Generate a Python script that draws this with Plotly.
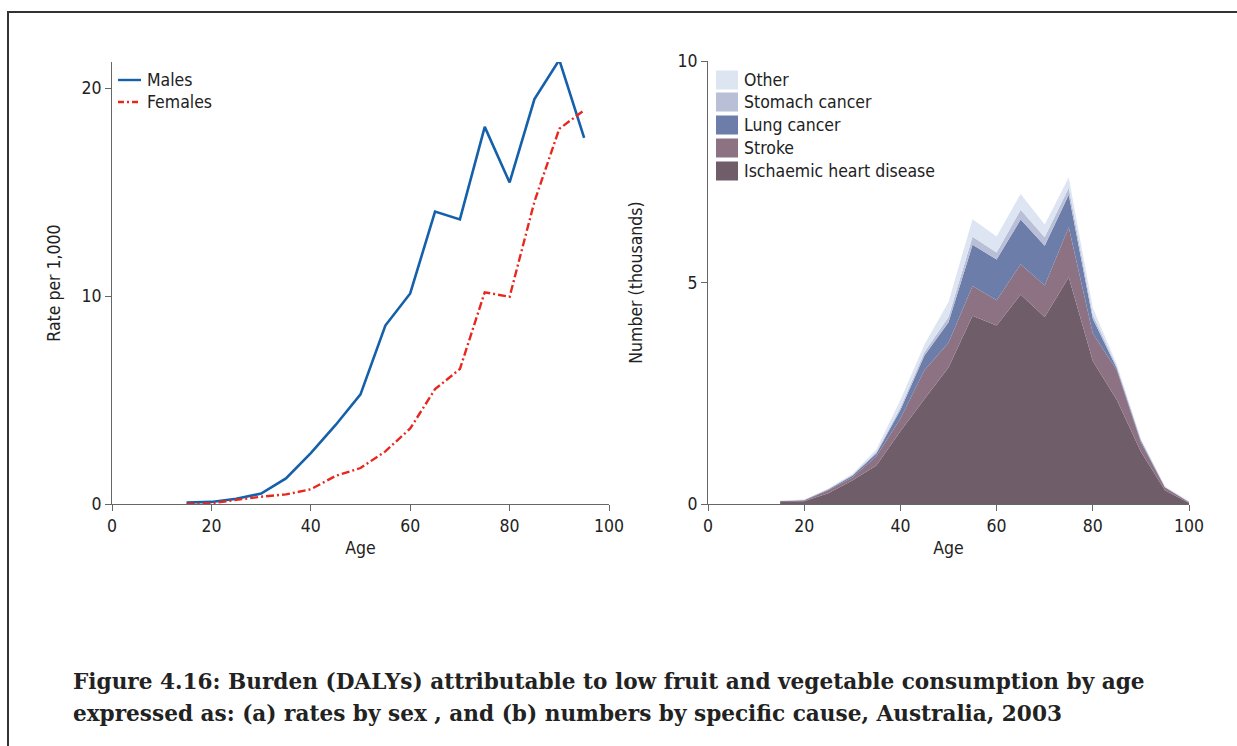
import plotly.graph_objects as go

W, H = 1237, 746

# ---------------- Data ----------------
ages_rate = [15, 20, 25, 30, 35, 40, 45, 50, 55, 60, 65, 70, 75, 80, 85, 90, 95]
males = [0.07, 0.1, 0.25, 0.5, 1.23, 2.45, 3.8, 5.27, 8.58, 10.12, 14.06, 13.68, 18.13, 15.46, 19.47, 21.35, 17.6]
females = [0.0, 0.03, 0.2, 0.35, 0.46, 0.71, 1.35, 1.73, 2.53, 3.63, 5.52, 6.49, 10.18, 9.96, 14.54, 18.04, 18.93]

ages_num = [15, 20, 25, 30, 35, 40, 45, 50, 55, 60, 65, 70, 75, 80, 85, 90, 95, 100]
# values in thousands, per cause (stacked bottom to top)
ihd = [0.06, 0.06, 0.24, 0.53, 0.87, 1.64, 2.37, 3.08, 4.25, 4.03, 4.73, 4.22, 5.12, 3.23, 2.35, 1.18, 0.31, 0.02]
stroke = [0.01, 0.02, 0.07, 0.07, 0.21, 0.29, 0.65, 0.56, 0.67, 0.57, 0.68, 0.71, 1.13, 0.62, 0.67, 0.21, 0.06, 0.02]
lung = [0.0, 0.01, 0.02, 0.04, 0.06, 0.19, 0.33, 0.46, 0.93, 0.92, 1.01, 0.90, 0.73, 0.33, 0.04, 0.04, 0.01, 0.01]
stomach = [0.0, 0.0, 0.01, 0.02, 0.03, 0.06, 0.08, 0.12, 0.18, 0.16, 0.22, 0.19, 0.16, 0.09, 0.04, 0.02, 0.01, 0.0]
other = [0.01, 0.01, 0.01, 0.02, 0.06, 0.17, 0.17, 0.34, 0.40, 0.36, 0.36, 0.29, 0.23, 0.16, 0.05, 0.03, 0.01, 0.01]

causes = ["Ischaemic heart disease", "Stroke", "Lung cancer", "Stomach cancer", "Other"]
cause_values = [ihd, stroke, lung, stomach, other]
cause_colors = ["#6f5d6a", "#8d7284", "#6c7da9", "#b9bfd7", "#dde4f2"]

x_ticks = [0, 20, 40, 60, 80, 100]
rate_ticks = [0, 10, 20]
num_ticks = [0, 5, 10]

caption_lines = [
    "Figure 4.16: Burden (DALYs) attributable to low fruit and vegetable consumption by age",
    "expressed as: (a) rates by sex , and (b) numbers by specific cause, Australia, 2003",
]

# ---------------- Helpers ----------------
def px(x):
    return x / W

def py(y):
    return 1 - y / H

FONT = "DejaVu Sans Condensed, Liberation Sans Narrow, Arial Narrow, sans-serif"
FS = 17.5
TXT = "#222222"
AX = "#666666"

fig = go.Figure()

fig.add_trace(go.Scatter(x=ages_rate, y=males, mode="lines", name="Males",
                         line=dict(color="#1560ab", width=2.6),
                         xaxis="x", yaxis="y", showlegend=False))
fig.add_trace(go.Scatter(x=ages_rate, y=females, mode="lines", name="Females",
                         line=dict(color="#e8281f", width=2.4, dash="8px,3px,2px,3px"),
                         xaxis="x", yaxis="y", showlegend=False))

for name, vals, col in zip(causes, cause_values, cause_colors):
    fig.add_trace(go.Scatter(x=ages_num, y=vals, mode="lines", name=name,
                             stackgroup="one", line=dict(width=0, color=col),
                             fillcolor=col, xaxis="x2", yaxis="y2",
                             showlegend=False))

axis_common = dict(showgrid=False, zeroline=False, showline=True, linecolor=AX,
                   linewidth=1, ticks="outside", ticklen=6, tickcolor=AX,
                   tickwidth=1, automargin=False,
                   tickfont=dict(family=FONT, size=FS, color=TXT))
title_font = dict(family=FONT, size=FS, color=TXT)

fig.update_layout(
    width=W, height=H, autosize=False,
    margin=dict(l=0, r=0, t=0, b=0, pad=0, autoexpand=False),
    paper_bgcolor="white", plot_bgcolor="white",
    xaxis=dict(domain=[px(112), px(609)], range=[0, 100], tickvals=x_ticks,
               anchor="y", title=dict(text="Age", font=title_font, standoff=6),
               **axis_common),
    yaxis=dict(domain=[py(504), py(62)], range=[0, 21.25], tickvals=rate_ticks,
               anchor="x", title=dict(text="Rate per 1,000", font=title_font, standoff=16),
               **axis_common),
    xaxis2=dict(domain=[px(708), px(1189)], range=[0, 100], tickvals=x_ticks,
                anchor="y2", title=dict(text="Age", font=title_font, standoff=6),
                **axis_common),
    yaxis2=dict(domain=[py(504), py(61)], range=[0, 10], tickvals=num_ticks,
                anchor="x2", title=dict(text="Number (thousands)", font=title_font, standoff=30),
                **axis_common),
)

shapes = []
annotations = []

# Frame
shapes.append(dict(type="path", xref="paper", yref="paper",
                   path=f"M {px(8)},0 L {px(8)},{py(12)} L 1,{py(12)}",
                   line=dict(color="#333333", width=2)))

# Left legend (lines)
leg_left = [("Males", "#1560ab", "solid", 80), ("Females", "#e8281f", "6px,3px,2px,3px", 102)]
for label, col, dash, yc in leg_left:
    shapes.append(dict(type="line", xref="paper", yref="paper",
                       x0=px(118), x1=px(141), y0=py(yc), y1=py(yc),
                       line=dict(color=col, width=2.4, dash=dash)))
    annotations.append(dict(text=label, xref="paper", yref="paper", x=px(145), y=py(yc),
                            xanchor="left", yanchor="middle", showarrow=False,
                            font=dict(family=FONT, size=FS, color=TXT)))

# Right legend (swatches), top to bottom
leg_rows = [80, 102, 125, 148, 171]
for (label, col), yc in zip(list(zip(causes, cause_colors))[::-1], leg_rows):
    shapes.append(dict(type="rect", xref="paper", yref="paper",
                       x0=px(716), x1=px(738), y0=py(yc - 9.5), y1=py(yc + 9.5),
                       fillcolor=col, line=dict(width=0)))
    annotations.append(dict(text=label, xref="paper", yref="paper", x=px(742), y=py(yc),
                            xanchor="left", yanchor="middle", showarrow=False,
                            font=dict(family=FONT, size=FS, color=TXT)))

# Caption
for line, yc in zip(caption_lines, [681, 713]):
    annotations.append(dict(text=f"<b>{line}</b>", xref="paper", yref="paper", x=px(71), y=py(yc),
                            xanchor="left", yanchor="middle", showarrow=False,
                            font=dict(family="DejaVu Serif, Liberation Serif, serif", size=21.6, color="#222222")))

fig.update_layout(shapes=shapes, annotations=annotations)

fig.write_html("out.html",
               post_script="document.body.style.margin='0';document.body.style.overflow='hidden';")
